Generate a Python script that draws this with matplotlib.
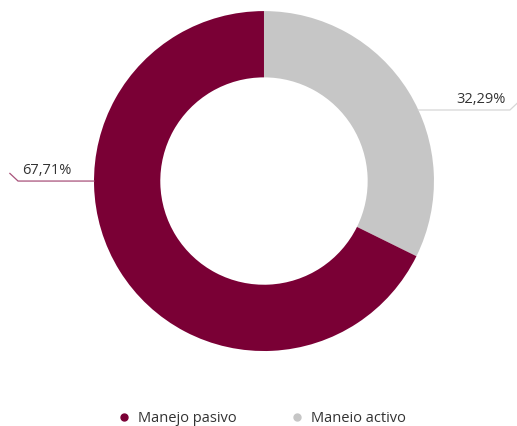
import matplotlib
matplotlib.use("Agg")
import numpy as np
import matplotlib.pyplot as plt
from matplotlib.lines import Line2D

plt.rcParams['font.family'] = ['Open Sans', 'DejaVu Sans']

categories = ['Manejo activo', 'Manejo pasivo']
shares = [32.29, 67.71]
colors = ['#c6c6c6', '#7a0035']
line_colors = ['#d6d6d6', '#a8527a']
legend_labels = ['Manejo pasivo', 'Maneio activo']

fig = plt.figure(figsize=(5.17, 4.26), dpi=100)
ax = fig.add_axes([0.1818, 0.176, 0.6576, 0.798])

ax.pie(shares, colors=colors, startangle=90, counterclock=False, radius=1,
       wedgeprops=dict(width=0.39, linewidth=0))
ax.set_xlim(-1, 1)
ax.set_ylim(-1, 1)
ax.set_aspect('equal')
ax.axis('off')

# leader lines: (height of the horizontal run, side)
anchors = [(0.418, 1), (0.0, -1)]
for share, (hy, side), lc in zip(shares, anchors, line_colors):
    x0 = side * np.sqrt(1 - hy ** 2)
    x1 = side * 1.447
    x2 = side * 1.495
    ax.plot([x0, x1, x2], [hy, hy, hy + 0.045], color=lc, lw=0.9,
            clip_on=False, solid_joinstyle='miter')
    txt = f"{share:.2f}%".replace('.', ',')
    ax.text(side * 1.424, hy + 0.018, txt, ha='right' if side > 0 else 'left',
            va='bottom', fontsize=10.5, color='#333333', clip_on=False)

handles = [Line2D([], [], marker='o', ls='none', color=c, markersize=5)
           for c in [colors[1], colors[0]]]
fig.legend(handles, legend_labels, loc='center left', bbox_to_anchor=(0.225, 0.018),
           ncol=2, frameon=False, fontsize=10.5, handletextpad=0.5,
           handlelength=1.0, columnspacing=3.6, labelcolor='#333333',
           borderaxespad=0, borderpad=0, bbox_transform=fig.transFigure)

fig.savefig('out.png', dpi=100)
